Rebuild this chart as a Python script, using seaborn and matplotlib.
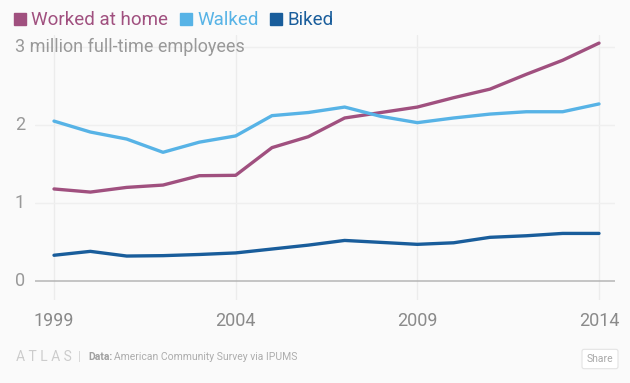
import matplotlib
matplotlib.use("Agg")
import matplotlib.pyplot as plt
import matplotlib.transforms as mtransforms
from matplotlib.lines import Line2D
import seaborn as sns
import pandas as pd

years = list(range(1999, 2015))
worked_at_home = [1.18, 1.14, 1.20, 1.23, 1.35, 1.355, 1.71, 1.85, 2.09, 2.16, 2.23, 2.35, 2.46, 2.65, 2.83, 3.05]
walked = [2.05, 1.91, 1.82, 1.65, 1.78, 1.86, 2.12, 2.16, 2.23, 2.11, 2.03, 2.09, 2.14, 2.17, 2.17, 2.27]
biked = [0.33, 0.38, 0.32, 0.325, 0.34, 0.36, 0.41, 0.46, 0.52, 0.495, 0.47, 0.49, 0.56, 0.58, 0.61, 0.61]
series_names = ["Worked at home", "Walked", "Biked"]
colors = ["#a0507f", "#57b3e6", "#195d9b"]
x_ticks = [1999, 2004, 2009, 2014]
y_ticks = [0, 1, 2, 3]
y_labels = ["0", "1", "2", "3 million full-time employees"]

df = pd.DataFrame({"year": years * 3,
                   "value": worked_at_home + walked + biked,
                   "series": sum([[n] * len(years) for n in series_names], [])})

sns.set_style("white")
plt.rcParams["font.family"] = ["Roboto", "DejaVu Sans"]

bg = "#fafafa"
fig = plt.figure(figsize=(6.3, 3.83), dpi=100, facecolor=bg)
ax = fig.add_axes([35 / 630, (383 - 300) / 383, 580 / 630, 265 / 383], facecolor=bg)

for xt in x_ticks:
    ax.axvline(xt, color="#ececec", lw=1, zorder=0)
for yt in y_ticks[1:]:
    ax.axhline(yt, color="#efefef", lw=1, zorder=0)
ax.axhline(0, color="#b5b5b5", lw=1.1, zorder=1)

sns.lineplot(data=df, x="year", y="value", hue="series", hue_order=series_names,
             palette=colors, lw=2.4, ax=ax, legend=False, zorder=3)

ax.set_xlim(1999 - 19 / 36.33, 2014 + 16 / 36.33)
ax.set_ylim(-19 / 78, 246 / 78)
for s in ax.spines.values():
    s.set_visible(False)
ax.set_xlabel("")
ax.set_ylabel("")
ax.set_yticks([])
ax.set_xticks(x_ticks)
ax.set_xticklabels([str(x) for x in x_ticks], fontsize=13, color="#8a8a8a")
ax.tick_params(axis="x", length=0, pad=9)

trans = mtransforms.blended_transform_factory(fig.transFigure, ax.transData)
for yt, lab in zip(y_ticks, y_labels):
    ax.text(15 / 630, yt, lab, transform=trans, ha="left", va="center",
            fontsize=13, color="#999999")

handles = [Line2D([], [], marker="s", ls="", color=c, markersize=8.5) for c in colors]
leg = fig.legend(handles, series_names, loc="upper left", bbox_to_anchor=(0.0, 1.005),
                 ncol=3, frameon=False, fontsize=13.5, handlelength=0.7,
                 handletextpad=0.25, columnspacing=0.6, borderaxespad=0.3)
for t, c in zip(leg.get_texts(), colors):
    t.set_color(c)

fy = 1 - 357 / 383
fig.text(16 / 630, fy, "A T L A S", fontsize=10, color="#cccccc", va="center", ha="left")
fig.text(78 / 630, fy, "|", fontsize=9, color="#d5d5d5", va="center", ha="left")
fig.text(88 / 630, fy, "Data:", fontsize=7.5, color="#a0a0a0", va="center",
         ha="left", fontweight="bold")
fig.text(114 / 630, fy, "American Community Survey via IPUMS", fontsize=7.5,
         color="#adadad", va="center", ha="left")
fig.text(600 / 630, 1 - 359 / 383, "Share", fontsize=7.5, color="#aaaaaa", va="center", ha="center",
         bbox=dict(boxstyle="round,pad=0.45,rounding_size=0.2", fc="white", ec="#e3e3e3", lw=0.8))

fig.savefig("out.png", dpi=100, facecolor=bg)
